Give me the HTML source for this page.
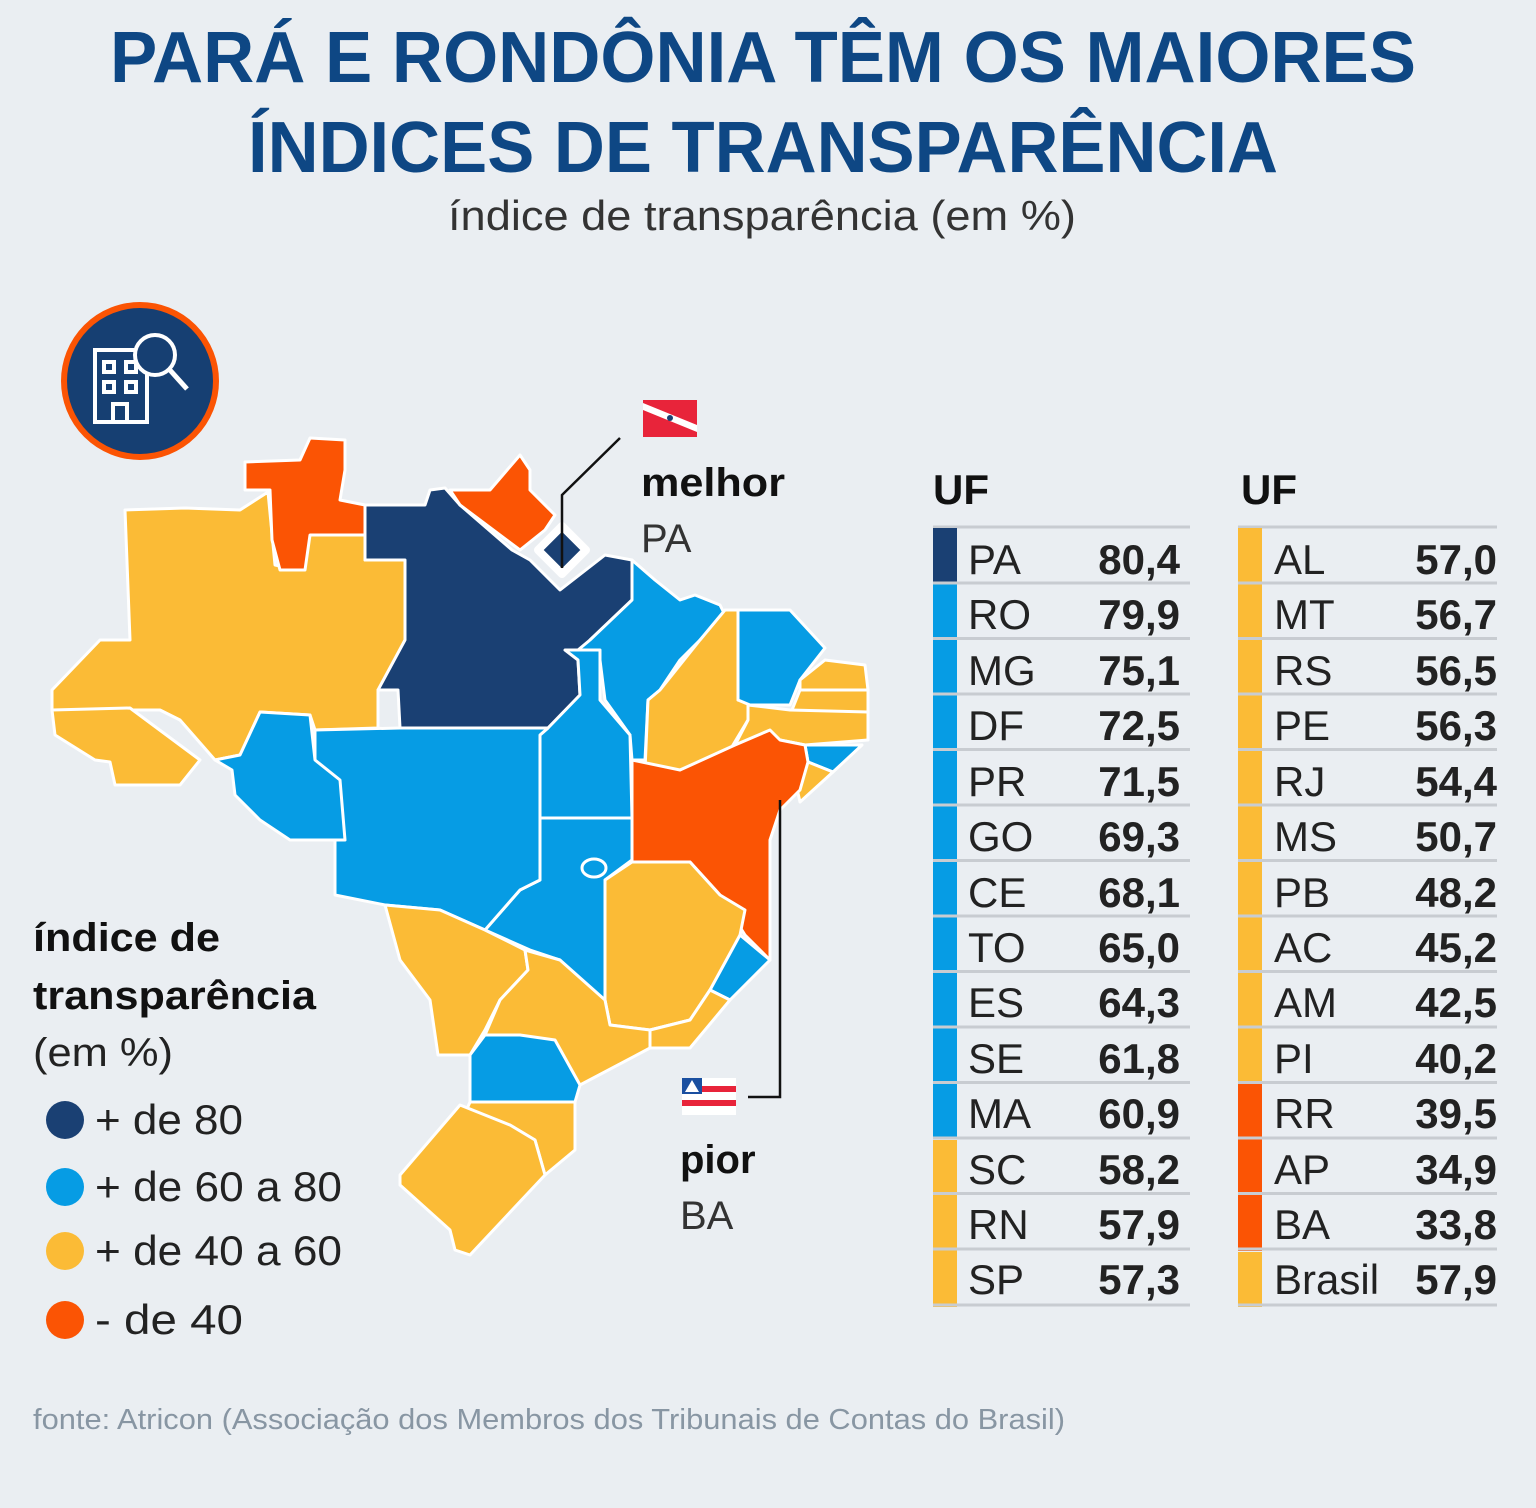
<!DOCTYPE html>
<html><head><meta charset="utf-8"><style>
html,body{margin:0;padding:0;background:#eaeef2;}
svg{display:block;font-family:"Liberation Sans",sans-serif;}
</style></head><body>
<svg width="1536" height="1508" viewBox="0 0 1536 1508">
<rect width="1536" height="1508" fill="#eaeef2"/>
<text x="763" y="82" text-anchor="middle" font-size="72" font-weight="bold" fill="#0e4784" textLength="1306" lengthAdjust="spacingAndGlyphs">PARÁ E RONDÔNIA TÊM OS MAIORES</text>
<text x="763" y="172" text-anchor="middle" font-size="72" font-weight="bold" fill="#0e4784" textLength="1030" lengthAdjust="spacingAndGlyphs">ÍNDICES DE TRANSPARÊNCIA</text>
<text x="762" y="230" text-anchor="middle" font-size="42" fill="#333" textLength="628" lengthAdjust="spacingAndGlyphs">índice de transparência (em %)</text>

<circle cx="140" cy="381" r="76" fill="#163f72" stroke="#fb5404" stroke-width="6"/>
<g fill="none" stroke="#fff" stroke-width="4">
<rect x="95" y="350" width="52" height="72"/>
<rect x="104" y="362" width="10" height="10"/><rect x="126" y="362" width="10" height="10"/>
<rect x="104" y="382" width="10" height="10"/><rect x="126" y="382" width="10" height="10"/>
<rect x="113" y="404" width="14" height="18"/>
<circle cx="155" cy="355" r="20" fill="#163f72"/>
<line x1="169" y1="369" x2="187" y2="389" stroke-width="5"/>
</g>

<g stroke="#fff" stroke-width="3" stroke-linejoin="round">
<polygon fill="#fbbb36" points="52,690 100,640 130,640 125,510 185,508 240,510 268,492 275,565 300,570 310,535 365,535 365,560 405,560 405,640 380,690 378,690 378,728 315,730 310,715 260,712 240,755 215,760 180,720 160,710 52,710"/>
<polygon fill="#fbbb36" points="52,710 130,708 200,760 180,785 115,785 110,762 95,760 55,735"/>
<polygon fill="#fb5404" points="245,462 300,460 310,438 345,440 345,470 340,500 365,505 365,535 310,535 305,570 280,570 272,540 270,490 245,490"/>
<polygon fill="#1a4073" points="365,505 425,505 430,490 445,488 460,505 512,550 530,560 560,590 605,555 632,560 632,600 590,640 578,660 580,695 548,728 400,728 398,690 378,690 405,640 405,560 365,560"/>
<polygon fill="#fb5404" points="450,490 490,490 520,455 530,470 530,490 555,515 545,530 520,550 460,505"/>
<polygon fill="#1a4073" stroke-width="8" points="538,550 562,526 586,550 562,574"/>
<polygon fill="#069ce4" points="632,560 655,580 680,600 695,595 720,605 725,615 700,640 680,660 660,690 648,700 645,760 632,760 630,735 605,700 600,660 578,650 590,640 632,600"/>
<polygon fill="#fbbb36" points="700,640 725,610 738,610 738,700 748,700 748,720 730,750 680,770 645,770 648,700 660,690"/>
<polygon fill="#069ce4" points="738,610 790,610 825,648 800,680 790,705 750,705 738,700"/>
<polygon fill="#fbbb36" points="800,680 825,660 865,665 868,690 830,695 800,690"/>
<polygon fill="#fbbb36" points="800,690 868,690 868,720 820,725 790,715"/>
<polygon fill="#fbbb36" points="748,705 790,710 868,712 868,740 805,745 780,740 760,735 735,745 748,720"/>
<polygon fill="#069ce4" points="805,745 862,745 833,772 808,762"/>
<polygon fill="#fbbb36" points="808,762 833,772 800,802 795,780"/>
<polygon fill="#fb5404" points="632,760 680,770 735,745 770,730 780,740 805,745 808,762 800,790 780,810 770,840 770,960 745,935 720,895 690,862 632,862"/>
<polygon fill="#069ce4" points="548,728 580,695 578,660 565,650 600,650 600,700 630,735 632,818 540,818 540,735"/>
<polygon fill="#069ce4" points="485,930 520,890 540,880 540,818 632,818 632,860 605,880 605,1025 560,960 530,950"/>
<ellipse cx="594" cy="868" rx="12" ry="9" fill="#069ce4"/>
<polygon fill="#069ce4" points="315,730 400,728 548,728 540,735 540,818 540,880 520,890 485,930 440,910 385,905 335,895 335,830 320,780 315,760"/>
<polygon fill="#069ce4" points="215,760 240,755 260,712 310,715 315,760 340,780 345,840 290,840 260,820 235,795 232,770"/>
<polygon fill="#fbbb36" points="385,905 440,910 485,930 525,950 528,970 500,1000 485,1030 470,1055 438,1055 430,1000 400,960"/>
<polygon fill="#fbbb36" points="605,880 632,862 690,862 720,895 745,910 740,935 745,940 710,990 690,1020 650,1030 610,1025 605,1000"/>
<polygon fill="#069ce4" points="740,935 770,960 730,1000 710,990"/>
<polygon fill="#fbbb36" points="710,990 730,1000 690,1048 650,1048 650,1030 690,1020"/>
<polygon fill="#fbbb36" points="525,950 560,960 605,1000 610,1025 650,1030 650,1048 580,1085 520,1035 485,1035 500,1000 528,970"/>
<polygon fill="#069ce4" points="470,1055 485,1035 520,1035 555,1040 580,1085 575,1102 470,1102"/>
<polygon fill="#fbbb36" points="470,1102 575,1102 575,1150 545,1175 535,1140 510,1125 460,1125"/>
<polygon fill="#fbbb36" points="460,1105 510,1125 535,1140 545,1175 470,1255 455,1250 450,1230 400,1185 400,1175"/>
</g>

<polyline points="620,438 562,495 562,568" fill="none" stroke="#111" stroke-width="2.5"/>
<polyline points="748,1097 780,1097 780,800" fill="none" stroke="#111" stroke-width="2.5"/>
<rect x="643" y="400" width="54" height="37" fill="#e8243a"/>
<polygon points="643,403 697,425 697,432 643,410" fill="#fff"/>
<circle cx="670" cy="418" r="3" fill="#1a4073"/>
<rect x="682" y="1078" width="54" height="37" fill="#fff"/>
<rect x="682" y="1086" width="54" height="6" fill="#e8243a"/><rect x="682" y="1100" width="54" height="6" fill="#e8243a"/>
<rect x="682" y="1078" width="20" height="16" fill="#1a4fa0"/>
<polygon points="692,1080 699,1092 685,1092" fill="#fff"/>
<text x="641" y="496" font-size="40" font-weight="bold" fill="#111" textLength="144" lengthAdjust="spacingAndGlyphs">melhor</text>
<text x="641" y="552" font-size="40" fill="#333">PA</text>
<text x="680" y="1173" font-size="40" font-weight="bold" fill="#111">pior</text>
<text x="680" y="1229" font-size="40" fill="#333">BA</text>

<text x="33" y="951" font-size="40" font-weight="bold" fill="#111" textLength="187" lengthAdjust="spacingAndGlyphs">índice de</text>
<text x="33" y="1009" font-size="40" font-weight="bold" fill="#111" textLength="283" lengthAdjust="spacingAndGlyphs">transparência</text>
<text x="33" y="1066" font-size="40" fill="#222" textLength="140" lengthAdjust="spacingAndGlyphs">(em %)</text>
<circle cx="65" cy="1120" r="19" fill="#1a4073"/>
<circle cx="65" cy="1187" r="19" fill="#069ce4"/>
<circle cx="65" cy="1251" r="19" fill="#fbbb36"/>
<circle cx="65" cy="1320" r="19" fill="#fb5404"/>
<g font-size="42" fill="#222">
<text x="95" y="1134" textLength="148" lengthAdjust="spacingAndGlyphs">+ de 80</text>
<text x="95" y="1201" textLength="247" lengthAdjust="spacingAndGlyphs">+ de 60 a 80</text>
<text x="95" y="1265" textLength="247" lengthAdjust="spacingAndGlyphs">+ de 40 a 60</text>
<text x="95" y="1334" textLength="148" lengthAdjust="spacingAndGlyphs">-  de 40</text>
</g>

<text x="933" y="504" font-size="42" font-weight="bold" fill="#111">UF</text>
<text x="1241" y="504" font-size="42" font-weight="bold" fill="#111">UF</text>
<line x1="933" y1="527" x2="1190" y2="527" stroke="#c8ccd1" stroke-width="3"/>
<line x1="1238" y1="527" x2="1497" y2="527" stroke="#c8ccd1" stroke-width="3"/>
<g font-size="42">
<g>
<rect x="933" y="528" width="24" height="54" fill="#1a4073"/>
<rect x="933" y="584" width="24" height="555" fill="#069ce4"/>
<rect x="933" y="1140" width="24" height="167" fill="#fbbb36"/>
<rect x="1238" y="528" width="24" height="555" fill="#fbbb36"/>
<rect x="1238" y="1084" width="24" height="167" fill="#fb5404"/>
<rect x="1238" y="1252" width="24" height="55" fill="#fbbb36"/>
</g>
<g stroke="#c8ccd1" stroke-width="3">
<line x1="933" y1="583" x2="1190" y2="583"/><line x1="933" y1="638.5" x2="1190" y2="638.5"/><line x1="933" y1="694" x2="1190" y2="694"/><line x1="933" y1="749.5" x2="1190" y2="749.5"/><line x1="933" y1="805" x2="1190" y2="805"/><line x1="933" y1="860.5" x2="1190" y2="860.5"/><line x1="933" y1="916" x2="1190" y2="916"/><line x1="933" y1="971.5" x2="1190" y2="971.5"/><line x1="933" y1="1027" x2="1190" y2="1027"/><line x1="933" y1="1082.5" x2="1190" y2="1082.5"/><line x1="933" y1="1138" x2="1190" y2="1138"/><line x1="933" y1="1193.5" x2="1190" y2="1193.5"/><line x1="933" y1="1249" x2="1190" y2="1249"/><line x1="933" y1="1305" x2="1190" y2="1305"/>
<line x1="1238" y1="583" x2="1497" y2="583"/><line x1="1238" y1="638.5" x2="1497" y2="638.5"/><line x1="1238" y1="694" x2="1497" y2="694"/><line x1="1238" y1="749.5" x2="1497" y2="749.5"/><line x1="1238" y1="805" x2="1497" y2="805"/><line x1="1238" y1="860.5" x2="1497" y2="860.5"/><line x1="1238" y1="916" x2="1497" y2="916"/><line x1="1238" y1="971.5" x2="1497" y2="971.5"/><line x1="1238" y1="1027" x2="1497" y2="1027"/><line x1="1238" y1="1082.5" x2="1497" y2="1082.5"/><line x1="1238" y1="1138" x2="1497" y2="1138"/><line x1="1238" y1="1193.5" x2="1497" y2="1193.5"/><line x1="1238" y1="1249" x2="1497" y2="1249"/><line x1="1238" y1="1305" x2="1497" y2="1305"/>
</g>
<g fill="#222">
<text x="968" y="574">PA</text><text x="968" y="629">RO</text><text x="968" y="685">MG</text><text x="968" y="740">DF</text><text x="968" y="796">PR</text><text x="968" y="851">GO</text><text x="968" y="907">CE</text><text x="968" y="962">TO</text><text x="968" y="1017">ES</text><text x="968" y="1073">SE</text><text x="968" y="1128">MA</text><text x="968" y="1184">SC</text><text x="968" y="1239">RN</text><text x="968" y="1294">SP</text>
<text x="1274" y="574">AL</text><text x="1274" y="629">MT</text><text x="1274" y="685">RS</text><text x="1274" y="740">PE</text><text x="1274" y="796">RJ</text><text x="1274" y="851">MS</text><text x="1274" y="907">PB</text><text x="1274" y="962">AC</text><text x="1274" y="1017">AM</text><text x="1274" y="1073">PI</text><text x="1274" y="1128">RR</text><text x="1274" y="1184">AP</text><text x="1274" y="1239">BA</text><text x="1274" y="1294">Brasil</text>
</g>
<g fill="#222" font-weight="bold" text-anchor="end">
<text x="1180" y="574">80,4</text><text x="1180" y="629">79,9</text><text x="1180" y="685">75,1</text><text x="1180" y="740">72,5</text><text x="1180" y="796">71,5</text><text x="1180" y="851">69,3</text><text x="1180" y="907">68,1</text><text x="1180" y="962">65,0</text><text x="1180" y="1017">64,3</text><text x="1180" y="1073">61,8</text><text x="1180" y="1128">60,9</text><text x="1180" y="1184">58,2</text><text x="1180" y="1239">57,9</text><text x="1180" y="1294">57,3</text>
<text x="1497" y="574">57,0</text><text x="1497" y="629">56,7</text><text x="1497" y="685">56,5</text><text x="1497" y="740">56,3</text><text x="1497" y="796">54,4</text><text x="1497" y="851">50,7</text><text x="1497" y="907">48,2</text><text x="1497" y="962">45,2</text><text x="1497" y="1017">42,5</text><text x="1497" y="1073">40,2</text><text x="1497" y="1128">39,5</text><text x="1497" y="1184">34,9</text><text x="1497" y="1239">33,8</text><text x="1497" y="1294">57,9</text>
</g>
</g>

<text x="33" y="1429" font-size="29" fill="#8896a3" textLength="1032" lengthAdjust="spacingAndGlyphs">fonte: Atricon (Associação dos Membros dos Tribunais de Contas do Brasil)</text>
</svg>
</body></html>
